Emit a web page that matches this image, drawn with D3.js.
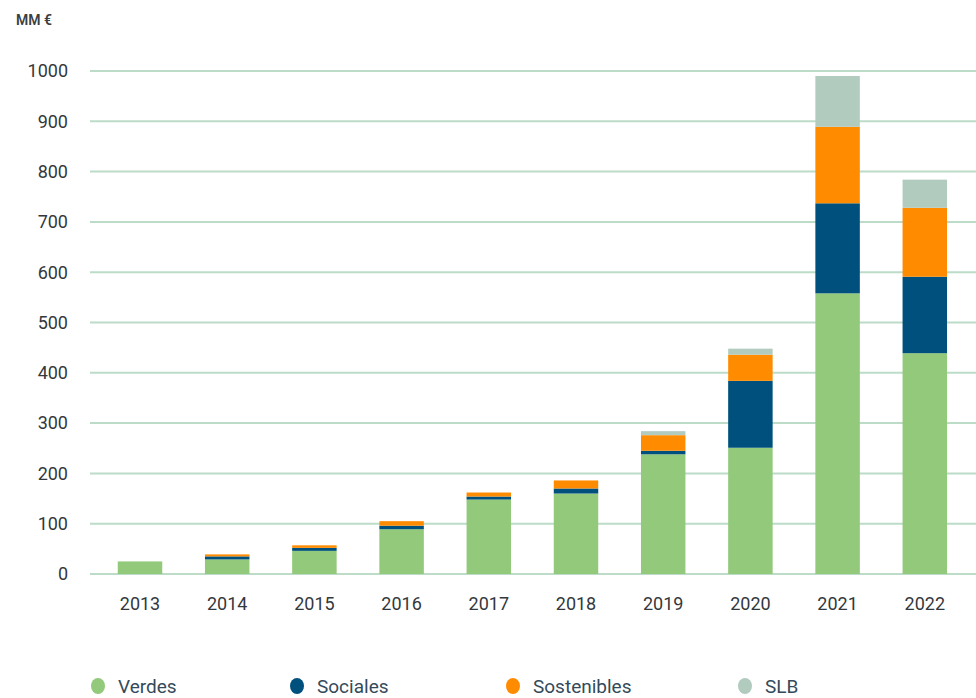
<!DOCTYPE html>
<html>
<meta charset="utf-8">
<title>Emisiones por tipo</title>
<style>
body {
  margin: 0;
  background: #fff;
  font-family: Roboto, "Open Sans", sans-serif;
}

.grid line {
  stroke: #bcdcc8;
  stroke-width: 2px;
}

.axis text {
  fill: #33383d;
  font-size: 18px;
}

.legend text {
  fill: #344a5a;
  font-size: 19px;
}
</style>
<body>
<div id="chart"></div>
<script src="https://d3js.org/d3.v7.min.js"></script>
<script>

var years = ["2013", "2014", "2015", "2016", "2017", "2018", "2019", "2020", "2021", "2022"];
var seriesNames = ["Verdes", "Sociales", "Sostenibles", "SLB"];
var verdes =      [25, 29, 46, 89, 148, 160, 238, 251, 558, 439];
var sociales =    [0,   6,  6,  7,   6,  10,   7, 133, 179, 152];
var sostenibles = [0,   4,  5,  9,   8,  16,  31,  52, 152, 137];
var slb =         [0,   0,  0,  0,   0,   0,   8,  12, 101,  56];
var colors = ["#93c97a", "#00507e", "#ff8c00", "#b2cbbf"];
var yTicks = [0, 100, 200, 300, 400, 500, 600, 700, 800, 900, 1000];

var width = 976,
  height = 698;

var rows = years.map(function(y, i) {
  return { year: y, Verdes: verdes[i], Sociales: sociales[i], Sostenibles: sostenibles[i], SLB: slb[i] };
});

var svg = d3.select("#chart").append("svg")
  .attr("width", width)
  .attr("height", height);

var x = d3.scaleBand()
  .domain(years)
  .range([96.4, 968.4])
  .paddingInner(0.49)
  .paddingOuter(0.245);

var y = d3.scaleLinear()
  .domain([0, 1000])
  .range([574, 71]);

var color = d3.scaleOrdinal()
  .domain(seriesNames)
  .range(colors);

// gridlines
svg.append("g")
  .attr("class", "grid")
  .selectAll("line")
  .data(yTicks)
  .enter().append("line")
  .attr("x1", 90)
  .attr("x2", width)
  .attr("y1", function(d) { return y(d); })
  .attr("y2", function(d) { return y(d); });

// y axis labels
svg.append("g")
  .attr("class", "axis")
  .selectAll("text")
  .data(yTicks)
  .enter().append("text")
  .attr("x", 68)
  .attr("y", function(d) { return y(d); })
  .attr("dy", ".35em")
  .attr("text-anchor", "end")
  .text(function(d) { return d; });

svg.append("text")
  .attr("x", 16)
  .attr("y", 25)
  .style("font-size", "14px")
  .style("font-weight", "600")
  .style("fill", "#3a3f44")
  .text("MM €");

// stacked bars
var stack = d3.stack().keys(seriesNames);
var layers = stack(rows);

svg.append("g").selectAll("g")
  .data(layers)
  .enter().append("g")
  .attr("fill", function(d) { return color(d.key); })
  .selectAll("rect")
  .data(function(d) { return d; })
  .enter().append("rect")
  .attr("x", function(d) { return x(d.data.year); })
  .attr("width", x.bandwidth())
  .attr("y", function(d) { return y(d[1]); })
  .attr("height", function(d) { return y(d[0]) - y(d[1]); });

// x axis labels
svg.append("g")
  .attr("class", "axis")
  .selectAll("text")
  .data(years)
  .enter().append("text")
  .attr("x", function(d) { return x(d) + x.bandwidth() / 2; })
  .attr("y", 604)
  .attr("dy", ".35em")
  .attr("text-anchor", "middle")
  .text(function(d) { return d; });

// legend
var legendX = [98, 297, 513, 745];
var legend = svg.append("g")
  .attr("class", "legend")
  .selectAll("g")
  .data(seriesNames)
  .enter().append("g")
  .attr("transform", function(d, i) { return "translate(" + legendX[i] + ",686)"; });

legend.append("ellipse")
  .attr("rx", 7)
  .attr("ry", 8)
  .attr("fill", function(d) { return color(d); });

legend.append("text")
  .attr("x", 20)
  .attr("dy", ".35em")
  .text(function(d) { return d; });

</script>
</body>
</html>
